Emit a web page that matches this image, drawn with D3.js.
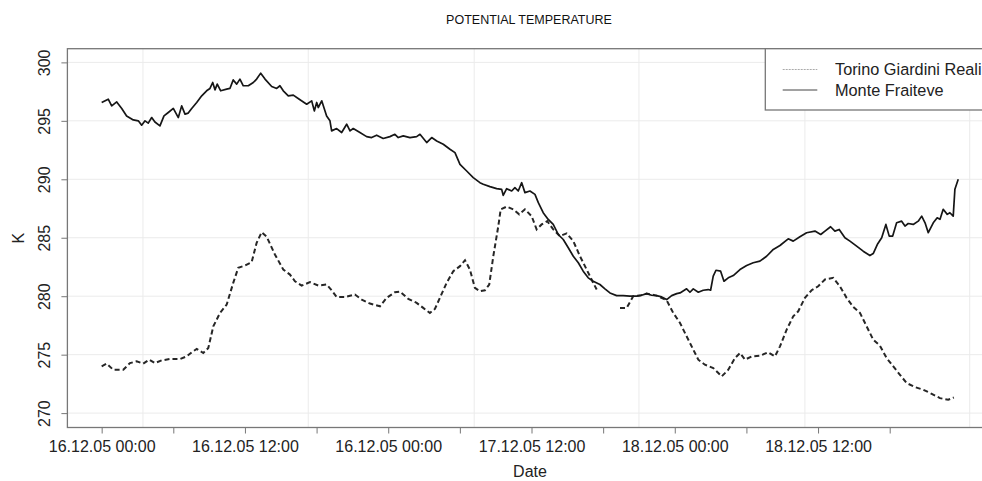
<!DOCTYPE html>
<html>
<head>
<meta charset="utf-8">
<script src="https://cdn.jsdelivr.net/npm/d3@7"></script>
<style>
  html, body { margin: 0; padding: 0; background: #fff; }
  svg { display: block; font-family: "Liberation Sans", Arial, Helvetica, sans-serif; }
</style>
</head>
<body>
<div id="chart"></div>
<script>
// hours since 16.12.05 00:00, potential temperature in K
const monteFraiteve = [
  [0.0, 296.57], [0.55, 296.85], [0.84, 296.28], [1.26, 296.62], [1.68, 296.06], [2.09, 295.42],
  [2.65, 295.08], [3.07, 295.0], [3.35, 294.63], [3.63, 295.0], [3.9, 294.8], [4.19, 295.28],
  [4.46, 294.9], [4.88, 294.57], [5.22, 295.42], [5.58, 295.71], [6.0, 296.06], [6.42, 295.28],
  [6.7, 296.28], [6.98, 295.57], [7.25, 295.66], [7.54, 296.06], [7.96, 296.57], [8.38, 297.14],
  [8.79, 297.57], [9.07, 297.77], [9.3, 298.28], [9.49, 297.65], [9.68, 298.14], [9.97, 297.57],
  [10.47, 297.71], [10.74, 297.77], [11.02, 298.5], [11.31, 298.14], [11.58, 298.57], [11.86, 298.0],
  [12.28, 298.0], [12.7, 298.28], [12.98, 298.57], [13.32, 299.08], [13.68, 298.57], [14.24, 297.94],
  [14.66, 297.77], [14.93, 298.0], [15.21, 297.57], [15.63, 297.14], [16.05, 297.2], [16.55, 296.85],
  [17.17, 296.42], [17.59, 296.71], [17.81, 295.85], [18.01, 296.57], [18.14, 296.14], [18.43, 296.71],
  [18.84, 295.42], [19.12, 295.0], [19.26, 294.14], [19.68, 294.34], [20.1, 294.0], [20.52, 294.71],
  [20.8, 294.14], [21.07, 294.34], [21.63, 294.0], [22.19, 293.65], [22.61, 293.57], [23.03, 293.77],
  [23.58, 293.49], [24.14, 293.65], [24.56, 293.85], [24.84, 293.57], [25.26, 293.71], [25.82, 293.57],
  [26.38, 293.65], [26.66, 293.85], [27.22, 293.14], [27.64, 293.57], [28.06, 293.28], [28.61, 293.0],
  [29.17, 292.57], [29.59, 292.28], [30.01, 291.28], [30.57, 290.71], [31.12, 290.14], [31.68, 289.71],
  [31.96, 289.57], [32.52, 289.37], [33.08, 289.2], [33.5, 289.14], [33.63, 288.63], [33.92, 289.2],
  [34.34, 289.0], [34.61, 289.28], [34.89, 289.0], [35.18, 289.71], [35.45, 288.86], [35.87, 289.0],
  [36.29, 288.71], [36.57, 288.0], [36.98, 287.14], [37.4, 286.57], [37.82, 286.14], [38.24, 285.28],
  [38.66, 284.85], [39.08, 284.14], [39.5, 283.42], [39.92, 282.86], [40.33, 282.14], [40.75, 281.57],
  [41.17, 281.28], [41.73, 281.0], [42.15, 280.63], [42.57, 280.28], [43.13, 280.05], [43.68, 280.05],
  [44.24, 280.0], [44.81, 280.0], [45.22, 280.08], [45.64, 280.22], [46.06, 280.08], [46.48, 280.05],
  [46.9, 279.94], [47.32, 279.71], [47.74, 280.05], [48.16, 280.22], [48.44, 280.28], [48.99, 280.63],
  [49.27, 280.34], [49.55, 280.63], [49.97, 280.34], [50.38, 280.51], [50.8, 280.57], [51.0, 280.51],
  [51.22, 281.71], [51.45, 282.22], [51.84, 282.14], [52.12, 281.28], [52.48, 281.57], [52.9, 281.77],
  [53.46, 282.28], [54.02, 282.62], [54.57, 282.86], [55.13, 283.0], [55.69, 283.42], [56.25, 284.0],
  [56.81, 284.34], [57.5, 284.91], [57.92, 284.71], [58.48, 285.09], [59.04, 285.43], [59.74, 285.57],
  [60.22, 285.28], [60.58, 285.57], [61.05, 285.94], [61.41, 285.57], [61.77, 285.71], [62.25, 285.0],
  [62.67, 284.71], [63.23, 284.28], [63.78, 283.85], [64.34, 283.48], [64.62, 283.65], [64.96, 284.42],
  [65.33, 285.0], [65.68, 286.14], [65.96, 285.14], [66.25, 285.14], [66.58, 286.28], [67.0, 286.42],
  [67.28, 286.0], [67.55, 286.22], [67.97, 286.14], [68.39, 286.42], [68.68, 286.85], [68.96, 286.28],
  [69.23, 285.43], [69.65, 286.28], [69.98, 286.71], [70.21, 286.57], [70.48, 287.43], [70.82, 287.0],
  [71.04, 287.14], [71.32, 286.85], [71.46, 289.14], [71.74, 290.0]
];

const torinoGiardiniReali = [
  [0.0, 274.0], [0.42, 274.23], [0.97, 273.71], [1.81, 273.71], [2.37, 274.28], [2.93, 274.43],
  [3.48, 274.23], [3.99, 274.57], [4.46, 274.28], [5.03, 274.51], [5.72, 274.63], [6.56, 274.63],
  [7.12, 274.85], [7.54, 275.2], [7.96, 275.49], [8.51, 275.14], [8.93, 275.57], [9.35, 277.42],
  [9.91, 278.57], [10.47, 279.28], [11.02, 281.14], [11.44, 282.43], [12.0, 282.63], [12.56, 282.91],
  [12.98, 284.57], [13.4, 285.48], [13.82, 285.09], [14.51, 283.57], [15.21, 282.28], [15.77, 281.85],
  [16.19, 281.28], [16.75, 280.91], [17.45, 281.2], [18.14, 280.91], [18.84, 281.0], [19.26, 280.51],
  [19.68, 279.94], [20.38, 279.94], [21.21, 280.14], [21.78, 279.71], [22.47, 279.37], [23.31, 279.14],
  [23.87, 279.86], [24.56, 280.34], [24.98, 280.4], [25.68, 279.77], [26.38, 279.43], [26.93, 279.0],
  [27.49, 278.57], [27.91, 278.91], [28.33, 279.86], [28.89, 281.14], [29.45, 282.14], [30.01, 282.57],
  [30.43, 283.08], [30.84, 282.28], [31.26, 280.71], [31.68, 280.42], [32.1, 280.51], [32.46, 281.0],
  [32.8, 283.42], [33.22, 286.0], [33.42, 287.43], [33.92, 287.66], [34.47, 287.43], [34.97, 287.0],
  [35.45, 287.43], [36.01, 286.85], [36.43, 285.71], [36.85, 286.14], [37.32, 286.42], [37.82, 285.71],
  [38.38, 285.14], [38.94, 285.37], [39.5, 284.71], [40.06, 283.42], [40.62, 282.28], [41.17, 281.14],
  [41.46, 280.57], [42.4, null],
  [43.41, 279.0], [43.97, 279.0], [44.52, 280.0], [45.08, 280.05], [45.64, 280.22], [46.48, 280.05],
  [47.32, 279.65], [47.87, 278.57], [48.44, 277.71], [48.99, 276.57], [49.55, 275.43], [49.97, 274.57],
  [50.52, 274.14], [51.22, 273.86], [51.93, 273.14], [52.48, 273.71], [53.04, 274.71], [53.46, 275.14],
  [53.88, 274.57], [54.44, 274.85], [55.13, 274.91], [55.83, 275.2], [56.39, 274.85], [56.81, 275.71],
  [57.37, 277.14], [57.92, 278.28], [58.34, 278.71], [58.9, 279.86], [59.46, 280.51], [60.01, 280.85],
  [60.58, 281.43], [61.27, 281.57], [61.83, 280.85], [62.39, 279.86], [62.95, 279.08], [63.51, 278.57],
  [64.07, 277.42], [64.62, 276.28], [65.18, 275.77], [65.74, 274.71], [66.3, 274.0], [66.86, 273.28],
  [67.42, 272.57], [68.11, 272.23], [68.82, 272.0], [69.52, 271.65], [70.21, 271.28], [70.9, 271.14],
  [71.37, 271.34]
];

const xTickHours = [0, 6, 12, 18, 24, 30, 36, 42, 48, 54, 60, 66];
const xTickLabels = ["16.12.05 00:00", "", "16.12.05 12:00", "", "16.12.05 00:00", "",
  "17.12.05 12:00", "", "18.12.05 00:00", "", "18.12.05 12:00", ""];
const xGridHours = [3.46, 17.3, 31.2, 45.0, 58.9, 72.7];
const yTicks = [270, 275, 280, 285, 290, 295, 300];
const legendLabels = ["Torino Giardini Reali", "Monte Fraiteve"];

const width = 982, height = 481;
const m = { t: 48.7, r: -10.5, b: 53.5, l: 67.4 };

const svg = d3.select("#chart").append("svg")
  .attr("width", width)
  .attr("height", height);

const x = d3.scaleLinear()
  .domain([-2.87, 74.61])
  .range([m.l, width - m.r]);

const y = d3.scaleLinear()
  .domain([268.77, 301.17])
  .range([height - m.b, m.t]);

// grid
svg.append("g")
  .selectAll("line")
  .data(yTicks)
  .enter()
  .append("line")
  .attr("x1", m.l).attr("x2", width - m.r)
  .attr("y1", d => y(d)).attr("y2", d => y(d))
  .attr("stroke", "#ebebeb")
  .attr("stroke-width", 1);

svg.append("g")
  .selectAll("line")
  .data(xGridHours)
  .enter()
  .append("line")
  .attr("x1", d => x(d)).attr("x2", d => x(d))
  .attr("y1", m.t).attr("y2", height - m.b)
  .attr("stroke", "#ebebeb")
  .attr("stroke-width", 1);

// axes
const xAxis = svg.append("g")
  .attr("transform", `translate(0,${height - m.b})`)
  .call(d3.axisBottom(x).tickValues(xTickHours).tickSize(6).tickPadding(7)
    .tickFormat((d, i) => xTickLabels[i]));
xAxis.select(".domain").remove();
xAxis.selectAll("line").attr("stroke", "#777");
xAxis.selectAll("text").attr("font-size", "16px").attr("fill", "#222")
  .attr("font-family", "'Liberation Sans', Arial, sans-serif");

const yAxis = svg.append("g")
  .attr("transform", `translate(${m.l},0)`)
  .call(d3.axisLeft(y).tickValues(yTicks).tickSize(6).tickFormat(d3.format("d")));
yAxis.select(".domain").remove();
yAxis.selectAll("line").attr("stroke", "#777");
yAxis.selectAll("text")
  .attr("font-size", "16px").attr("fill", "#222")
  .attr("font-family", "'Liberation Sans', Arial, sans-serif")
  .attr("x", null).attr("dy", null)
  .attr("text-anchor", "middle")
  .attr("transform", "translate(-17,0) rotate(-90)");

// plot box
svg.append("rect")
  .attr("x", m.l).attr("y", m.t)
  .attr("width", width - m.r - m.l)
  .attr("height", height - m.b - m.t)
  .attr("fill", "none")
  .attr("stroke", "#777")
  .attr("stroke-width", 1.3);

svg.append("clipPath").attr("id", "plotclip")
  .append("rect")
  .attr("x", m.l).attr("y", m.t)
  .attr("width", width - m.r - m.l)
  .attr("height", height - m.b - m.t);

const line = d3.line()
  .defined(d => d[1] != null)
  .x(d => x(d[0]))
  .y(d => y(d[1]));

const plot = svg.append("g").attr("clip-path", "url(#plotclip)");

plot.append("path")
  .datum(torinoGiardiniReali)
  .attr("fill", "none")
  .attr("stroke", "#262626")
  .attr("stroke-width", 2)
  .attr("stroke-dasharray", "5,3")
  .attr("d", line);

plot.append("path")
  .datum(monteFraiteve)
  .attr("fill", "none")
  .attr("stroke", "#161616")
  .attr("stroke-width", 1.7)
  .attr("stroke-linejoin", "round")
  .attr("d", line);

// legend
const lg = svg.append("g");
lg.append("rect")
  .attr("x", 765.3).attr("y", m.t)
  .attr("width", 260).attr("height", 61.3)
  .attr("fill", "#fff")
  .attr("stroke", "#777")
  .attr("stroke-width", 1.3);

const legendStyles = [
  { c: "#aaa", w: 1, dash: "2,1" },
  { c: "#444", w: 1, dash: null }
];
legendLabels.forEach((l, i) => {
  const ly = 69.5 + i * 20.5;
  lg.append("line")
    .attr("x1", 782.7).attr("x2", 817.3)
    .attr("y1", ly).attr("y2", ly)
    .attr("stroke", legendStyles[i].c)
    .attr("stroke-width", legendStyles[i].w)
    .attr("stroke-dasharray", legendStyles[i].dash);
  lg.append("text")
    .attr("x", 835).attr("y", ly)
    .attr("dy", "0.36em")
    .attr("font-size", "16.3px")
    .attr("fill", "#222")
    .text(l);
});

// titles
svg.append("text")
  .attr("x", 529).attr("y", 24)
  .attr("text-anchor", "middle")
  .attr("font-size", "12.5px")
  .attr("fill", "#111")
  .text("POTENTIAL TEMPERATURE");

svg.append("text")
  .attr("x", 530).attr("y", 477)
  .attr("text-anchor", "middle")
  .attr("font-size", "16px")
  .attr("fill", "#222")
  .text("Date");

svg.append("text")
  .attr("transform", `translate(24,${(m.t + height - m.b) / 2}) rotate(-90)`)
  .attr("text-anchor", "middle")
  .attr("font-size", "16px")
  .attr("fill", "#222")
  .text("K");
</script>
</body>
</html>
